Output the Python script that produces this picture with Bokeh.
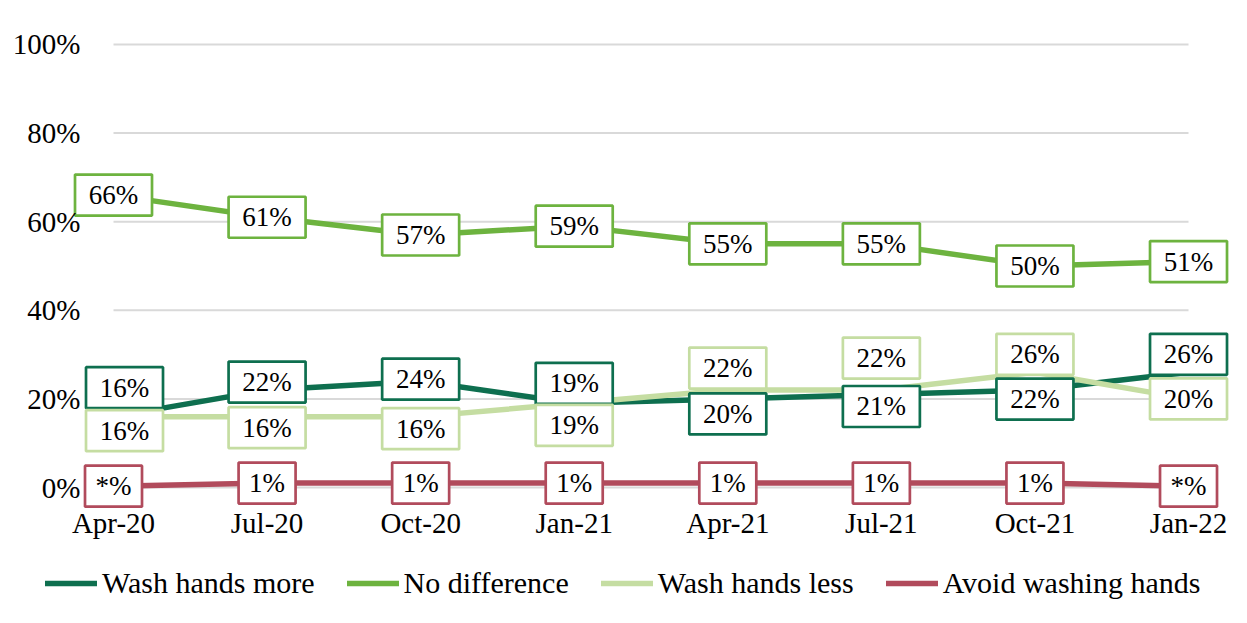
from bokeh.plotting import figure
from bokeh.models import Range1d, FixedTicker, Legend, LegendItem, ColumnDataSource
from bokeh.core.properties import value
from bokeh.embed import file_html
from bokeh.resources import INLINE

# ---- data ----
categories = ["Apr-20", "Jul-20", "Oct-20", "Jan-21", "Apr-21", "Jul-21", "Oct-21", "Jan-22"]
wash_more = [16, 22, 24, 19, 20, 21, 22, 26]
no_difference = [66, 61, 57, 59, 55, 55, 50, 51]
wash_less = [16, 16, 16, 19, 22, 22, 26, 20]
avoid_washing = [0.3, 1, 1, 1, 1, 1, 1, 0.3]
wash_more_labels = ["16%", "22%", "24%", "19%", "20%", "21%", "22%", "26%"]
no_difference_labels = ["66%", "61%", "57%", "59%", "55%", "55%", "50%", "51%"]
wash_less_labels = ["16%", "16%", "16%", "19%", "22%", "22%", "26%", "20%"]
avoid_washing_labels = ["*%", "1%", "1%", "1%", "1%", "1%", "1%", "*%"]
y_ticks = [0, 20, 40, 60, 80, 100]
y_tick_labels = ["0%", "20%", "40%", "60%", "80%", "100%"]

# ---- label placement (screen px, + = down) ----
wash_more_dy = [-29, -8, -2, -20, 15, 12, 9, -18]
wash_more_dx = [11, 0, 0, 0, 0, 0, 0, 0]
wash_less_dy = [14, 11, 12, 22, -22, -32, -18, 0]
wash_less_dx = [11, 0, 0, 0, 0, 0, 0, 0]
zero_dy = [0] * 8
zero_dx = [0] * 8

FONT = "Liberation Serif"
X0, X1 = -0.4754, 7.332
Y0, Y1 = -28.89, 102.03
FW, FH = 1199, 580
px_x = FW / (X1 - X0)
px_y = FH / (Y1 - Y0)

p = figure(frame_width=FW, frame_height=FH, output_backend="svg", toolbar_location=None,
           x_range=Range1d(X0, X1), y_range=Range1d(Y0, Y1),
           min_border_left=40, min_border_right=0, min_border_top=35, min_border_bottom=0)
p.outline_line_color = None
p.xgrid.visible = False
p.ygrid.visible = False

# gridlines spanning the category extent
n = len(categories)
p.segment(x0=[0] * len(y_ticks), x1=[n - 1] * len(y_ticks), y0=y_ticks, y1=y_ticks,
          line_color="#d9d9d9", line_width=2)

xs = list(range(n))
series = [
    ("Wash hands more", wash_more, wash_more_labels, "#0E6F4F", wash_more_dx, wash_more_dy),
    ("No difference", no_difference, no_difference_labels, "#6DB33F", zero_dx, zero_dy),
    ("Wash hands less", wash_less, wash_less_labels, "#C5DDA2", wash_less_dx, wash_less_dy),
    ("Avoid washing hands", avoid_washing, avoid_washing_labels, "#B14B5C", zero_dx, zero_dy),
]

items = []
line_renderers = []
for name, vals, labs, col, dx, dy in series:
    r = p.line(xs, vals, line_color=col, line_width=5.5, line_cap="round", line_join="round")
    line_renderers.append((name, r))

for name, vals, labs, col, dx, dy in series:
    lx = [x + d / px_x for x, d in zip(xs, dx)]
    ly = [v - d / px_y for v, d in zip(vals, dy)]
    widths = [77 if len(t) >= 3 else 57 for t in labs]
    src = ColumnDataSource(dict(x=lx, y=ly, w=widths, t=labs))
    p.rect(x="x", y="y", width="w", height=41, width_units="screen", height_units="screen",
           source=src, fill_color="white", line_color=col, line_width=2.7)
    p.text(x="x", y="y", text="t", source=src, text_font=value(FONT), text_font_size="27px",
           text_align="center", text_baseline="middle", text_color="black")

for name, r in line_renderers:
    items.append(LegendItem(label=name, renderers=[r]))

# axes
p.yaxis.ticker = FixedTicker(ticks=y_ticks)
p.yaxis.major_label_overrides = {t: l for t, l in zip(y_ticks, y_tick_labels)}
p.xaxis.ticker = FixedTicker(ticks=xs)
p.xaxis.major_label_overrides = {i: c for i, c in enumerate(categories)}
for ax in (p.xaxis, p.yaxis):
    ax.axis_line_color = None
    ax.major_tick_line_color = None
    ax.minor_tick_line_color = None
    ax.major_tick_out = 0
    ax.major_tick_in = 0
    ax.major_label_text_font = FONT
    ax.major_label_text_font_size = "29px"
    ax.major_label_text_color = "black"
p.yaxis.major_label_standoff = -40
p.xaxis.major_label_standoff = -109

legend = Legend(items=items, orientation="horizontal", location=(5, 15),
                label_text_font=FONT, label_text_font_size="30px", label_text_color="black",
                glyph_width=52, glyph_height=30, label_standoff=5, spacing=32,
                padding=0, margin=0, border_line_color=None, background_fill_alpha=0)
p.add_layout(legend)

open("out.html", "w").write(file_html(p, INLINE))
